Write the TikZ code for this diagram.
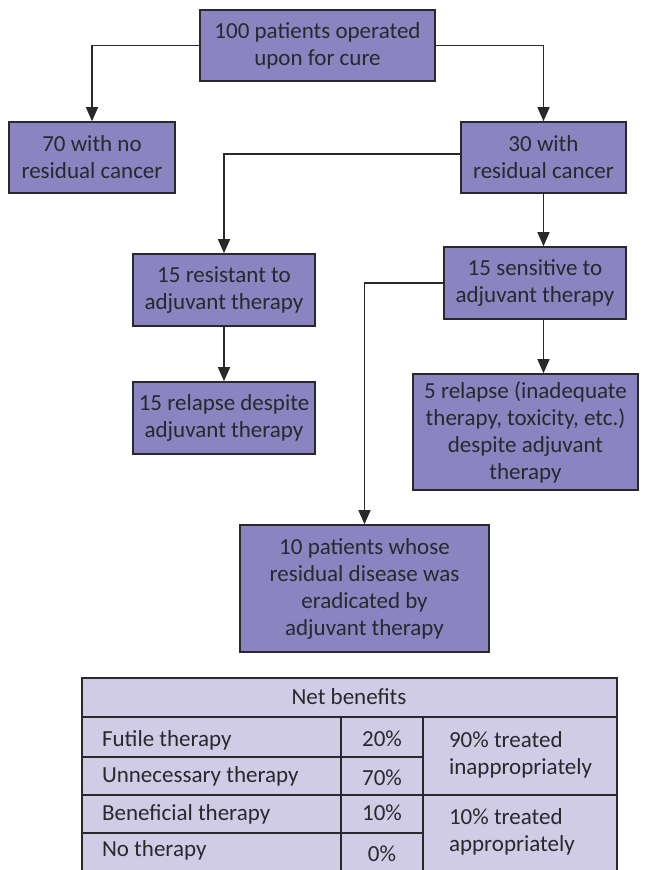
\documentclass[tikz,border=0pt]{standalone}
\usepackage{fontspec}
\setmainfont{Carlito}
\usetikzlibrary{arrows.meta}
\definecolor{corCaixa}{RGB}{138,132,192}
\definecolor{corTabela}{RGB}{208,204,230}
\definecolor{corLinha}{RGB}{40,40,45}

\begin{document}
\begin{tikzpicture}[x=0.5pt, y=-0.5pt, every node/.style={font=\fontsize{11.5}{13.5}\selectfont, text=corLinha}]
    \tikzstyle{caixa}=[rectangle, draw=corLinha, line width=0.8pt, fill=corCaixa,
      align=center, inner sep=0pt]
    \tikzstyle{seta}=[-{Triangle[width=6pt,length=7pt]}, draw=corLinha, line width=0.7pt]
    \tikzstyle{linha}=[draw=corLinha, line width=0.7pt]
    \useasboundingbox (0,0) rectangle (652,870);
    % fluxograma
    \node[caixa, minimum width=117.5pt, minimum height=35.5pt] (a) at (317.5,45.5) {100 patients operated\\upon for cure};
    \node[caixa, minimum width=83pt, minimum height=35.5pt] (b) at (92,157.5) {70 with no\\residual cancer};
    \node[caixa, minimum width=82.5pt, minimum height=35.5pt] (c) at (543.5,157.5) {30 with\\residual cancer};
    \node[caixa, minimum width=91pt, minimum height=36pt] (d) at (224,290) {15 resistant to\\adjuvant therapy};
    \node[caixa, minimum width=91pt, minimum height=36pt] (e) at (535,283) {15 sensitive to\\adjuvant therapy};
    \node[caixa, minimum width=91pt, minimum height=36pt] (f) at (224,418) {15 relapse despite\\adjuvant therapy};
    \node[caixa, minimum width=112.5pt, minimum height=58pt] (g) at (525.5,432) {5 relapse (inadequate\\therapy, toxicity, etc.)\\despite adjuvant\\therapy};
    \node[caixa, minimum width=124.5pt, minimum height=63.5pt] (h) at (364.5,588.5) {10 patients whose\\residual disease was\\eradicated by\\adjuvant therapy};
    \draw[seta] (a.west) -| (b.north);
    \draw[seta] (a.east) -| (c.north);
    \draw[seta] ([yshift=1.75pt]c.west) -| (d.north);
    \draw[seta] (c.south) -- (c.south |- e.north);
    \draw[seta] (e.west) -| (h.north);
    \draw[seta] (d.south) -- (f.north);
    \draw[seta] (c.south |- e.south) -- (c.south |- g.north);
    % tabela
    \fill[corTabela] (82,678) rectangle (617,870);
    \draw[linha] (82,870) -- (82,678) -- (617,678) -- (617,870);
    \draw[linha] (82,717) -- (617,717);
    \draw[linha] (82,757) -- (423,757);
    \draw[linha] (82,795) -- (617,795);
    \draw[linha] (82,833) -- (423,833);
    \draw[linha] (341,717) -- (341,870);
    \draw[linha] (423,717) -- (423,870);
    \node (t0) at (349,697) {Net benefits};
    \node[anchor=west] (t1) at (95,740) {Futile therapy};
    \node[anchor=west] (t2) at (95,776) {Unnecessary therapy};
    \node[anchor=west] (t3) at (95,814) {Beneficial therapy};
    \node[anchor=west] (t4) at (95,850) {No therapy};
    \node (p1) at (382,739) {20\%};
    \node (p2) at (382,778) {70\%};
    \node (p3) at (382,813) {10\%};
    \node (p4) at (382,854) {0\%};
    \node[anchor=west, align=left] (r1) at (442,755) {90\% treated\\inappropriately};
    \node[anchor=west, align=left] (r2) at (442,832) {10\% treated\\appropriately};
  \end{tikzpicture}
\end{document}
